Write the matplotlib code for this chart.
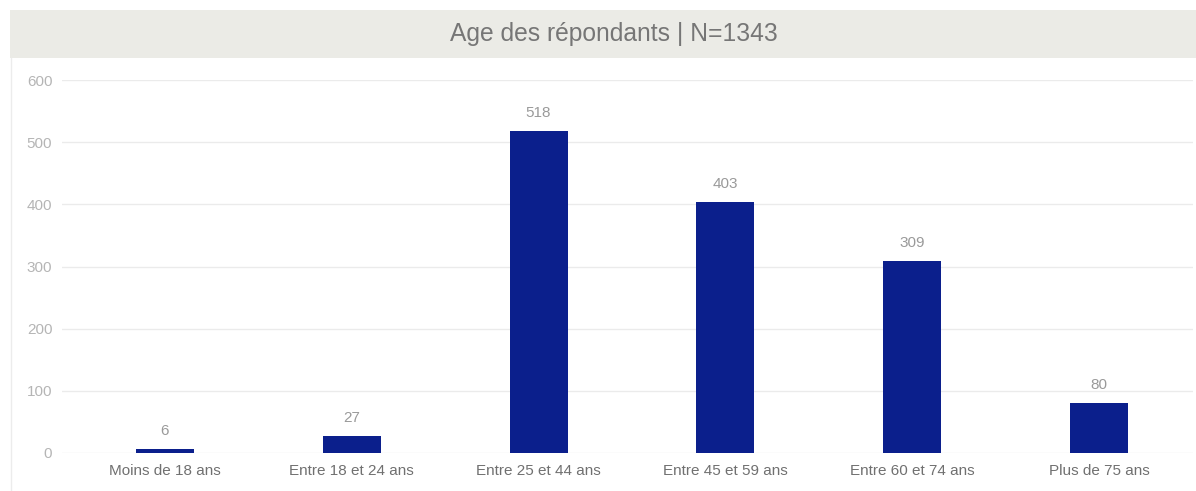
import matplotlib.pyplot as plt
from matplotlib.patches import Rectangle
from matplotlib.lines import Line2D

# Age distribution of respondents
categories = ['Moins de 18 ans', 'Entre 18 et 24 ans', 'Entre 25 et 44 ans',
              'Entre 45 et 59 ans', 'Entre 60 et 74 ans', 'Plus de 75 ans']
counts = [6, 27, 518, 403, 309, 80]
yticks = [0, 100, 200, 300, 400, 500, 600]
title = 'Age des répondants | N=1343'

plt.rcParams['font.family'] = ['Liberation Sans', 'DejaVu Sans']

W, H = 1196, 491
fig = plt.figure(figsize=(W / 100, H / 100), dpi=100)
fig.patch.set_facecolor('white')

# title band + faint card border
fig.patches.append(Rectangle((10 / W, 1 - 58 / H), 1 - 10 / W, 48 / H,
                             transform=fig.transFigure, facecolor='#ebebe6',
                             edgecolor='none', zorder=0))
fig.lines.append(Line2D([11 / W, 11 / W], [0, 1 - 58 / H], transform=fig.transFigure,
                        color='#ececec', linewidth=1))
fig.text(614 / W, 1 - 34 / H, title, ha='center', va='center',
         fontsize=17.7, color='#767676')

ax = fig.add_axes([62 / W, 1 - 453 / H, (1193 - 62) / W, (453 - 80) / H])
x = range(len(categories))
bars = ax.bar(x, counts, width=0.31, color='#0b1f8c', zorder=3)

ax.set_ylim(0, 600)
ax.set_xlim(-0.551, 5.503)
ax.set_yticks(yticks)
ax.set_xticks(list(x))
ax.set_xticklabels(categories)
ax.grid(axis='y', color='#ebebeb', linewidth=1, zorder=0)
for s in ax.spines.values():
    s.set_visible(False)
ax.tick_params(axis='both', length=0)
ax.tick_params(axis='y', labelsize=11, labelcolor='#b5b5b5', pad=7)
ax.tick_params(axis='x', labelsize=11, labelcolor='#707070', pad=8)

for bar, val in zip(bars, counts):
    ax.annotate(str(val), (bar.get_x() + bar.get_width() / 2, val),
                xytext=(0, 8), textcoords='offset points', ha='center',
                va='bottom', fontsize=11, color='#9a9a9a')

fig.savefig('out.png', dpi=100)
